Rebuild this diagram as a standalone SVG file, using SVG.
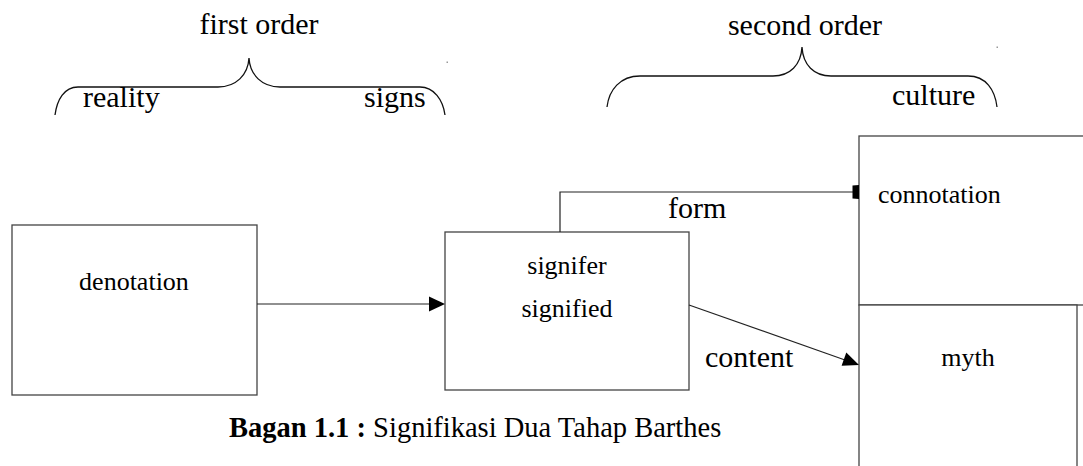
<svg xmlns="http://www.w3.org/2000/svg" width="1083" height="466" viewBox="0 0 1083 466">
  <style>
    text { font-family: "Liberation Serif", "Times New Roman", serif; fill: #000; }
    .big { font-size: 30px; }
    .lbl { font-size: 26px; }
    .box { fill: #fff; stroke: #444; stroke-width: 1.3; }
    .brace { fill: none; stroke: #111; stroke-width: 1.3; }
    .conn { fill: none; stroke: #222; stroke-width: 1.2; }
    .head { fill: #000; stroke: none; }
  </style>

  <rect width="1083" height="466" fill="#fff"/>

  <g id="brace-first-order">
    <path class="brace" d="M55,115 C57,100 64,87 78,87 L218,87 C236,87 248,75 249,58 C250,75 262,87 280,87 L420,87 C434,87 443,100 445,115"/>
    <text class="big" x="259" y="34" text-anchor="middle">first order</text>
    <text class="big" x="83" y="107">reality</text>
    <text class="big" x="364" y="107">signs</text>
  </g>

  <g id="brace-second-order">
    <path class="brace" d="M607,107 C609,90 620,76 640,76 L773,76 C790,76 801,65 802,47 C803,65 814,76 831,76 L968,76 C986,76 995,90 997,107"/>
    <text class="big" x="805" y="35" text-anchor="middle">second order</text>
    <text class="big" x="892" y="105">culture</text>
  </g>

  <g id="denotation">
    <rect class="box" x="12" y="225" width="245" height="170"/>
    <text class="lbl" x="134" y="290" text-anchor="middle">denotation</text>
  </g>

  <g id="signifier">
    <rect class="box" x="445" y="232" width="244" height="158"/>
    <text class="lbl" x="567" y="274" text-anchor="middle">signifer</text>
    <text class="lbl" x="567" y="317" text-anchor="middle">signified</text>
  </g>

  <g id="connotation">
    <rect class="box" x="859" y="136" width="240" height="169" stroke="#222"/>
    <text class="lbl" x="878" y="203">connotation</text>
  </g>

  <g id="myth">
    <rect class="box" x="859" y="305" width="218" height="180" stroke="#222"/>
    <text class="lbl" x="968" y="366" text-anchor="middle">myth</text>
  </g>

  <g id="connectors">
    <line class="conn" x1="257" y1="304" x2="432" y2="304"/>
    <polygon class="head" points="445,304 429,296.5 429,311.5"/>

    <polyline class="conn" points="560,232 560,192 854,192"/>
    <polygon class="head" points="852.5,185.5 859,185 859,199 852.5,198.5"/>
    <text class="big" x="668" y="218">form</text>

    <line class="conn" x1="689" y1="305" x2="845" y2="360"/>
    <polygon class="head" points="859,365 841.6,365.7 846.3,352.5"/>
    <text class="big" x="705" y="367">content</text>
  </g>

  <g id="caption">
    <text x="229" y="437" style="font-size:28.5px"><tspan font-weight="bold">Bagan 1.1 :</tspan> Signifikasi Dua Tahap Barthes</text>
  </g>

  <g id="specks" fill="#999">
    <rect x="446.5" y="61.5" width="1.5" height="1.5"/>
    <rect x="996.5" y="46.5" width="1.5" height="1.5"/>
  </g>
</svg>
